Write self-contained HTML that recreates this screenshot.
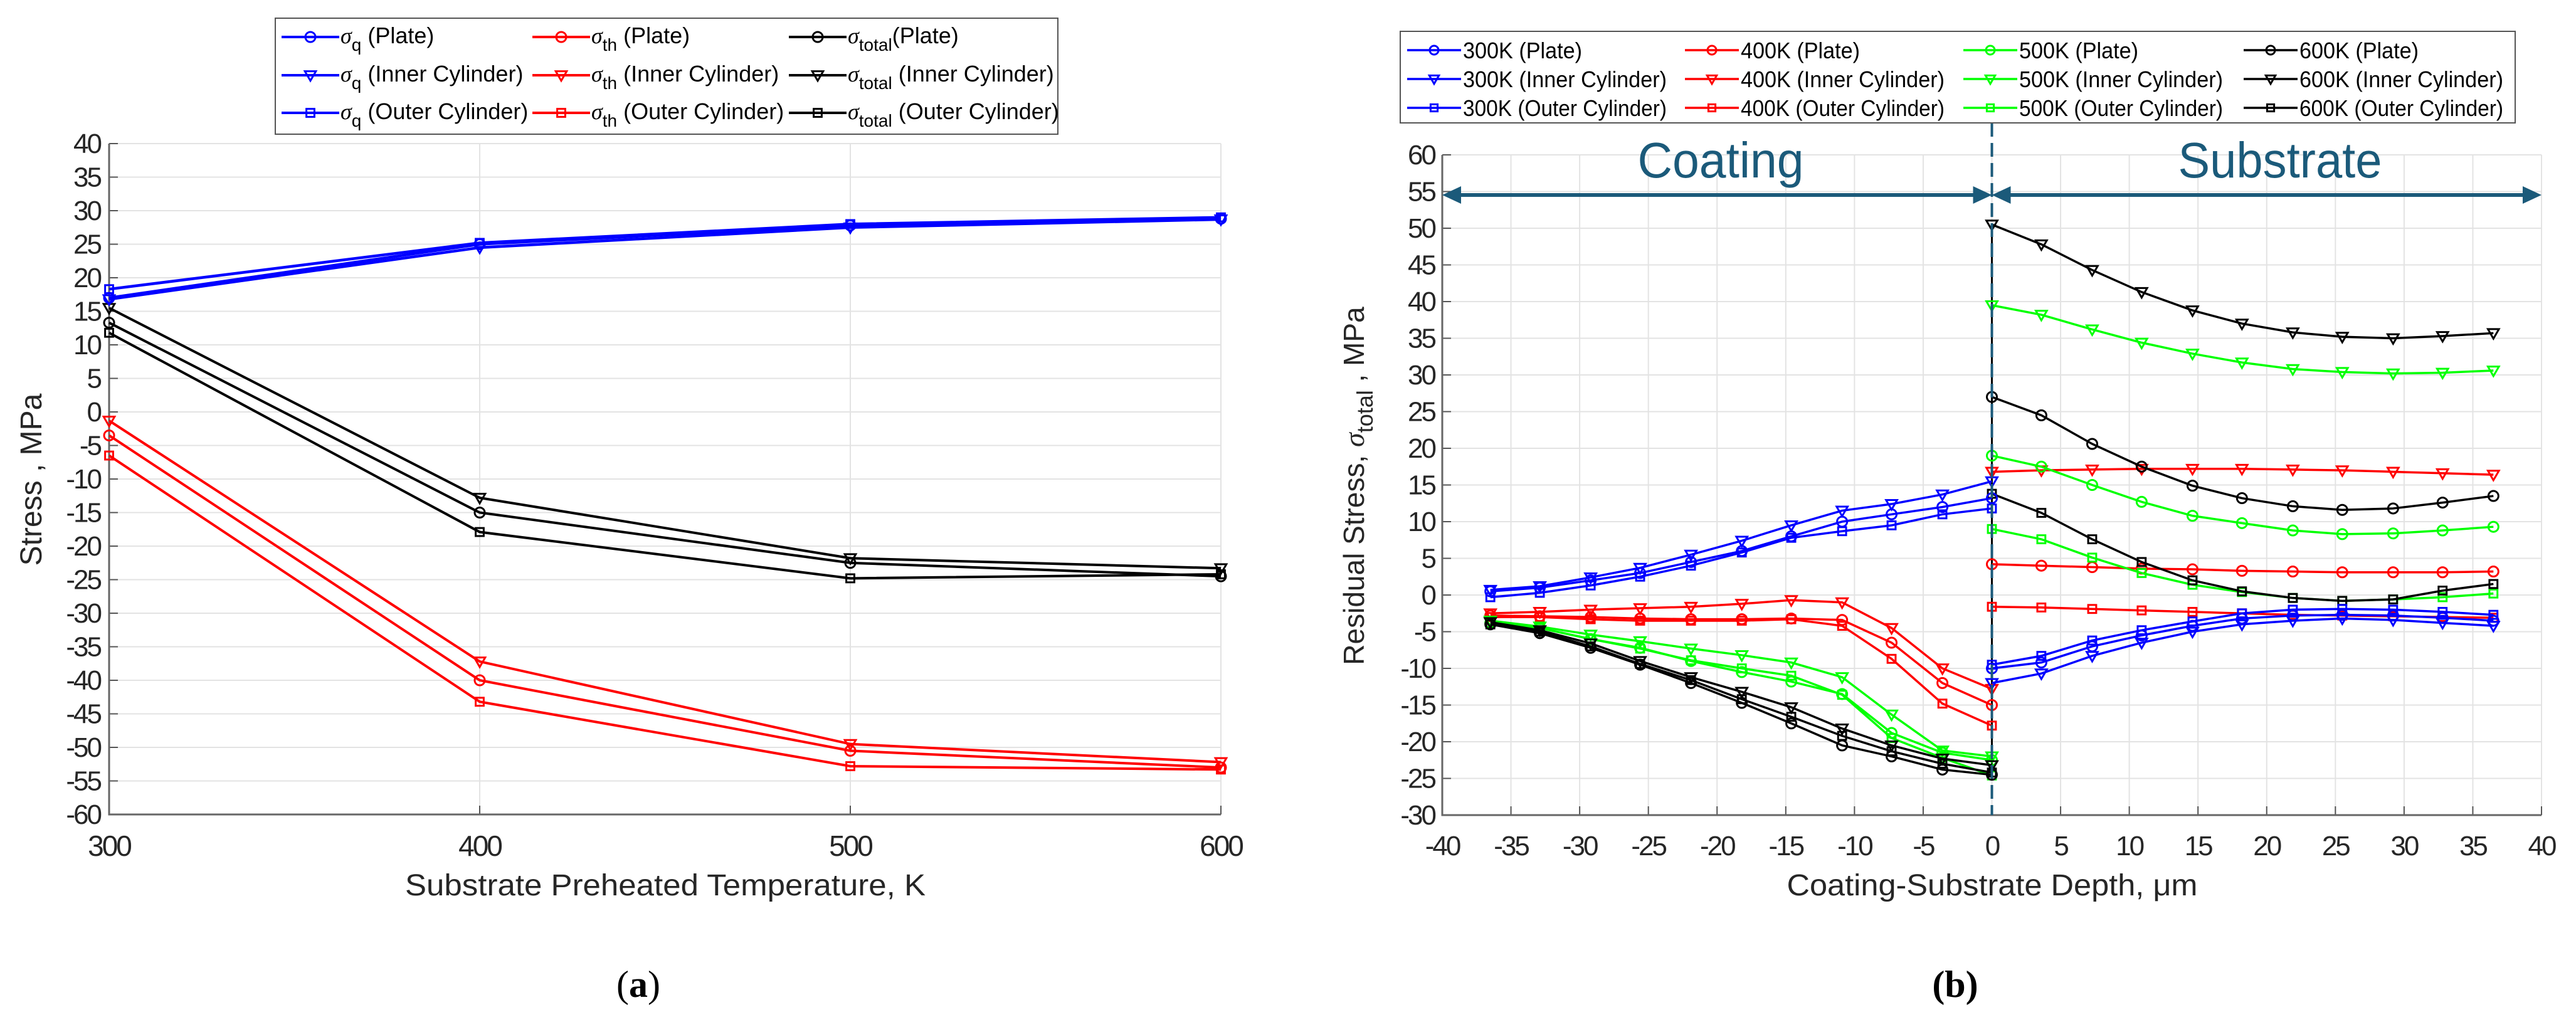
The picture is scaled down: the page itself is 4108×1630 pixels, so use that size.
<!DOCTYPE html>
<html><head><meta charset="utf-8"><style>
html,body{margin:0;padding:0;background:#fff;}
svg{display:block;font-family:"Liberation Sans",sans-serif;}
</style></head><body>
<svg id="fig" width="4108" height="1630" viewBox="0 0 4108 1630" xmlns="http://www.w3.org/2000/svg">
<g id="ga"></g>
<g id="gb"></g>
</svg>
<script>
// ---------- Chart (a) data ----------
const aTemps = [300, 400, 500, 600];
const aQPlate = [17, 25, 27.8, 28.8];
const aQInner = [16.8, 24.5, 27.5, 28.7];
const aQOuter = [18.3, 25.2, 28, 29];
const aThPlate = [-3.5, -40, -50.5, -53];
const aThInner = [-1.3, -37.2, -49.5, -52.2];
const aThOuter = [-6.5, -43.2, -52.8, -53.3];
const aTotPlate = [13.3, -15, -22.5, -24.5];
const aTotInner = [15.5, -12.8, -21.8, -23.3];
const aTotOuter = [11.8, -17.9, -24.8, -24.2];
const aXTicks = [300, 400, 500, 600];
const aYTicks = [40,35,30,25,20,15,10,5,0,-5,-10,-15,-20,-25,-30,-35,-40,-45,-50,-55,-60];

// ---------- Chart (b) data ----------
const bDepthCoat = [-36.5, -32.9, -29.2, -25.6, -21.9, -18.2, -14.6, -10.9, -7.3, -3.6, 0];
const bDepthSub = [0, 3.6, 7.3, 10.9, 14.6, 18.2, 21.9, 25.5, 29.2, 32.8, 36.5];
const b300PlateC = [0.5, 1, 2, 3, 4.5, 6, 8, 10, 11, 12, 13.2];
const b300InnerC = [0.7, 1.2, 2.4, 3.7, 5.5, 7.4, 9.5, 11.5, 12.4, 13.7, 15.5];
const b300OuterC = [-0.3, 0.3, 1.3, 2.5, 4, 5.8, 7.8, 8.7, 9.5, 11, 11.8];
const b300PlateS = [-10, -9.2, -7, -5.5, -4.2, -3.2, -2.8, -2.7, -2.8, -3.1, -3.5];
const b300InnerS = [-12, -10.7, -8.3, -6.5, -5, -4, -3.5, -3.2, -3.4, -3.8, -4.2];
const b300OuterS = [-9.5, -8.3, -6.2, -4.8, -3.6, -2.5, -2, -1.9, -2, -2.3, -2.7];
const b400PlateC = [-2.8, -2.9, -3, -3.2, -3.3, -3.3, -3.2, -3.4, -6.5, -12, -15];
const b400InnerC = [-2.5, -2.3, -2, -1.8, -1.6, -1.2, -0.7, -1, -4.5, -10, -12.8];
const b400OuterC = [-3, -3, -3.3, -3.5, -3.5, -3.5, -3.3, -4.2, -8.7, -14.8, -17.8];
const b400PlateS = [4.2, 4, 3.8, 3.6, 3.5, 3.3, 3.2, 3.1, 3.1, 3.1, 3.2];
const b400InnerS = [16.8, 17, 17.1, 17.2, 17.2, 17.2, 17.1, 17, 16.8, 16.6, 16.4];
const b400OuterS = [-1.6, -1.7, -1.9, -2.1, -2.3, -2.5, -2.7, -2.8, -2.9, -3, -3.1];
const b500PlateC = [-3.8, -4.5, -6, -7.2, -9, -10.5, -11.8, -13.5, -18.8, -21.5, -22.5];
const b500InnerC = [-3.5, -4.3, -5.4, -6.3, -7.3, -8.2, -9.2, -11.2, -16.3, -21.2, -22];
const b500OuterC = [-3.8, -4.5, -6, -7.3, -8.9, -10, -11, -13.6, -19.5, -22.2, -24.6];
const b500PlateS = [19, 17.5, 15, 12.7, 10.8, 9.8, 8.8, 8.3, 8.4, 8.8, 9.3];
const b500InnerS = [39.5, 38.2, 36.2, 34.4, 32.9, 31.7, 30.8, 30.4, 30.2, 30.3, 30.6];
const b500OuterS = [9, 7.6, 5.1, 3, 1.4, 0.4, -0.4, -0.8, -0.6, -0.3, 0.2];
const b600PlateC = [-4, -5.2, -7.2, -9.5, -12, -14.7, -17.5, -20.5, -22, -23.8, -24.5];
const b600InnerC = [-3.7, -4.8, -6.6, -9, -11.2, -13.2, -15.3, -18.2, -20.5, -22.3, -23.2];
const b600OuterC = [-4, -5, -7, -9.4, -11.6, -14.2, -16.6, -19.2, -21.3, -23, -24.2];
const b600PlateS = [27, 24.5, 20.6, 17.5, 14.9, 13.2, 12.1, 11.6, 11.8, 12.6, 13.5];
const b600InnerS = [50.5, 47.8, 44.3, 41.3, 38.8, 37, 35.8, 35.2, 35, 35.3, 35.7];
const b600OuterS = [13.8, 11.2, 7.6, 4.5, 2, 0.5, -0.4, -0.8, -0.6, 0.6, 1.5];
const bXTicks = [-40,-35,-30,-25,-20,-15,-10,-5,0,5,10,15,20,25,30,35,40];
const bYTicks = [60,55,50,45,40,35,30,25,20,15,10,5,0,-5,-10,-15,-20,-25,-30];

const NS = "http://www.w3.org/2000/svg";
function mk(parent, tag, attrs, text) {
  const e = document.createElementNS(NS, tag);
  for (const k in attrs) e.setAttribute(k, attrs[k]);
  if (text !== undefined) e.textContent = text;
  parent.appendChild(e);
  return e;
}
const BLUE = "#0000ff", RED = "#ff0000", GREEN = "#00ff00", BLACK = "#000000";
const TEAL = "#1b5a7a";

function marker(g, type, x, y, color, r) {
  let el;
  if (type === "o") el = mk(g, "circle", {cx: x, cy: y, r: r, fill: "none", stroke: color, "stroke-width": 3});
  else if (type === "v") el = mk(g, "polygon", {points: `${x-r*1.1},${y-r*0.8} ${x+r*1.1},${y-r*0.8} ${x},${y+r*1.1}`, fill: "none", stroke: color, "stroke-width": 3});
  else el = mk(g, "rect", {x: x-r*0.8, y: y-r*0.8, width: r*1.6, height: r*1.6, fill: "none", stroke: color, "stroke-width": 3});
  
  
  return el;
}
function series(g, xs, ys, sx, sy, color, type, name, lw, r) {
  const pts = xs.map((v, i) => sx(v) + "," + sy(ys[i])).join(" ");
  const pl = mk(g, "polyline", {points: pts, fill: "none", stroke: color, "stroke-width": lw});
  
  
  xs.forEach((v, i) => marker(g, type, sx(v), sy(ys[i]), color, r));
}

// ================= Chart A =================
(function(){
  const g = document.getElementById("ga");
  const L = 174, R = 1947, T = 229, B = 1299;
  const sx = v => L + (v - 300) / 300 * (R - L);
  const sy = v => T + (40 - v) / 100 * (B - T);
  aYTicks.forEach(t => {
    const gl = mk(g, "line", {x1: L, x2: R, y1: sy(t), y2: sy(t), stroke: "#e3e3e3", "stroke-width": 2});
    
    
    mk(g, "line", {x1: L, x2: L+14, y1: sy(t), y2: sy(t), stroke: "#555", "stroke-width": 2});
    const tl = mk(g, "text", {x: L - 14, y: sy(t) + 15, "text-anchor": "end", "font-size": 44, fill: "#262626", "letter-spacing": "-3"}, String(t));
    
    
  });
  aXTicks.forEach(t => {
    const gl = mk(g, "line", {x1: sx(t), x2: sx(t), y1: T, y2: B, stroke: "#e3e3e3", "stroke-width": 2});
    
    
    mk(g, "line", {x1: sx(t), x2: sx(t), y1: B, y2: B-14, stroke: "#555", "stroke-width": 2});
    const tl = mk(g, "text", {x: sx(t), y: B + 66, "text-anchor": "middle", "font-size": 46, fill: "#262626", "letter-spacing": "-3"}, String(t));
    
    
  });
  mk(g, "path", {d: `M${L},${T} V${B} H${R}`, fill: "none", stroke: "#666", "stroke-width": 3});
  series(g, aTemps, aThOuter, sx, sy, RED, "s", "sigma-th-outer-line", 4, 8);
  series(g, aTemps, aThPlate, sx, sy, RED, "o", "sigma-th-plate-line", 4, 8);
  series(g, aTemps, aThInner, sx, sy, RED, "v", "sigma-th-inner-line", 4, 8);
  series(g, aTemps, aTotOuter, sx, sy, BLACK, "s", "sigma-total-outer-line", 4, 8);
  series(g, aTemps, aTotPlate, sx, sy, BLACK, "o", "sigma-total-plate-line", 4, 8);
  series(g, aTemps, aTotInner, sx, sy, BLACK, "v", "sigma-total-inner-line", 4, 8);
  series(g, aTemps, aQOuter, sx, sy, BLUE, "s", "sigma-q-outer-line", 4.5, 8);
  series(g, aTemps, aQPlate, sx, sy, BLUE, "o", "sigma-q-plate-line", 4.5, 8);
  series(g, aTemps, aQInner, sx, sy, BLUE, "v", "sigma-q-inner-line", 4.5, 8);
  const yl = mk(g, "text", {x: 0, y: 0, transform: "translate(66,765) rotate(-90)", "text-anchor": "middle", "font-size": 48, fill: "#262626"}, "Stress , MPa");
  
  
  const xl = mk(g, "text", {x: 1061, y: 1428, "text-anchor": "middle", "font-size": 48, fill: "#262626", textLength: 830, lengthAdjust: "spacingAndGlyphs"}, "Substrate Preheated Temperature, K");
  
  
  const cap = mk(g, "text", {x: 1018, y: 1590, "text-anchor": "middle", "font-size": 60, fill: "#000", "font-family": "Liberation Serif, serif"});
  
  
  mk(cap, "tspan", {}, "(");
  mk(cap, "tspan", {"font-weight": "bold"}, "a");
  mk(cap, "tspan", {}, ")");
  // legend
  const lg = mk(g, "g", {});
  
  
  mk(lg, "rect", {x: 439, y: 29, width: 1248, height: 185, fill: "#fff", stroke: "#555", "stroke-width": 2});
  const cols = [[449, BLUE, "q"], [849, RED, "th"], [1258, BLACK, "total"]];
  const rows = [[59, "o", "Plate"], [120, "v", "Inner Cylinder"], [180, "s", "Outer Cylinder"]];
  cols.forEach(c => rows.forEach(r => {
    const e = mk(lg, "g", {});
    
    
    mk(e, "line", {x1: c[0], x2: c[0] + 92, y1: r[0], y2: r[0], stroke: c[1], "stroke-width": 4});
    marker(e, r[1], c[0] + 46, r[0], c[1], 8);
    const t = mk(e, "text", {x: c[0] + 94, y: r[0] + 10, "font-size": 36, fill: "#000"});
    mk(t, "tspan", {"font-style": "italic", "font-family": "Liberation Serif, serif"}, "σ");
    mk(t, "tspan", {"font-size": 28, dy: 12}, c[2]);
    const lab = (c[2] === "total" && r[2] === "Plate") ? "(Plate)" : " (" + r[2] + ")";
    mk(t, "tspan", {dy: -12}, lab);
  }));
})();

// ================= Chart B =================
(function(){
  const g = document.getElementById("gb");
  const L = 2300, R = 4053, T = 247, B = 1300;
  const sx = v => L + (v + 40) / 80 * (R - L);
  const sy = v => T + (60 - v) / 90 * (B - T);
  bYTicks.forEach(t => {
    const gl = mk(g, "line", {x1: L, x2: R, y1: sy(t), y2: sy(t), stroke: "#e3e3e3", "stroke-width": 2});
    
    
    mk(g, "line", {x1: L, x2: L+14, y1: sy(t), y2: sy(t), stroke: "#555", "stroke-width": 2});
    const tl = mk(g, "text", {x: L - 12, y: sy(t) + 15, "text-anchor": "end", "font-size": 44, fill: "#262626", "letter-spacing": "-3"}, String(t));
    
    
  });
  bXTicks.forEach(t => {
    const gl = mk(g, "line", {x1: sx(t), x2: sx(t), y1: T, y2: B, stroke: "#e3e3e3", "stroke-width": 2});
    
    
    mk(g, "line", {x1: sx(t), x2: sx(t), y1: B, y2: B-14, stroke: "#555", "stroke-width": 2});
    const tl = mk(g, "text", {x: sx(t), y: B + 64, "text-anchor": "middle", "font-size": 44, fill: "#262626", "letter-spacing": "-3"}, String(t));
    
    
  });
  mk(g, "path", {d: `M${L},${T} V${B} H${R}`, fill: "none", stroke: "#666", "stroke-width": 3});
  const vl = mk(g, "line", {x1: sx(0), x2: sx(0), y1: sy(50.5), y2: sy(-24.6), stroke: BLACK, "stroke-width": 3});
  
  
  const groups = [
    [RED, b400PlateC, b400InnerC, b400OuterC, b400PlateS, b400InnerS, b400OuterS, "400k"],
    [GREEN, b500PlateC, b500InnerC, b500OuterC, b500PlateS, b500InnerS, b500OuterS, "500k"],
    [BLACK, b600PlateC, b600InnerC, b600OuterC, b600PlateS, b600InnerS, b600OuterS, "600k"],
    [BLUE, b300PlateC, b300InnerC, b300OuterC, b300PlateS, b300InnerS, b300OuterS, "300k"]
  ];
  groups.forEach(gr => {
    series(g, bDepthCoat, gr[1], sx, sy, gr[0], "o", gr[7] + "-plate-coating", 3.5, 8);
    series(g, bDepthCoat, gr[2], sx, sy, gr[0], "v", gr[7] + "-inner-coating", 3.5, 8);
    series(g, bDepthCoat, gr[3], sx, sy, gr[0], "s", gr[7] + "-outer-coating", 3.5, 8);
    series(g, bDepthSub, gr[4], sx, sy, gr[0], "o", gr[7] + "-plate-substrate", 3.5, 8);
    series(g, bDepthSub, gr[5], sx, sy, gr[0], "v", gr[7] + "-inner-substrate", 3.5, 8);
    series(g, bDepthSub, gr[6], sx, sy, gr[0], "s", gr[7] + "-outer-substrate", 3.5, 8);
  });
  const dl = mk(g, "line", {x1: sx(0), x2: sx(0), y1: 196, y2: B, stroke: TEAL, "stroke-width": 4, "stroke-dasharray": "22,10"});
  
  
  const ay = 311, x0 = sx(0);
  const ar = mk(g, "g", {});
  
  
  mk(ar, "line", {x1: L + 28, x2: x0 - 28, y1: ay, y2: ay, stroke: TEAL, "stroke-width": 6});
  mk(ar, "line", {x1: x0 + 28, x2: R - 28, y1: ay, y2: ay, stroke: TEAL, "stroke-width": 6});
  mk(ar, "polygon", {points: `${L},${ay} ${L+30},${ay-14} ${L+30},${ay+14}`, fill: TEAL});
  mk(ar, "polygon", {points: `${x0},${ay} ${x0-30},${ay-14} ${x0-30},${ay+14}`, fill: TEAL});
  mk(ar, "polygon", {points: `${x0},${ay} ${x0+30},${ay-14} ${x0+30},${ay+14}`, fill: TEAL});
  mk(ar, "polygon", {points: `${R},${ay} ${R-30},${ay-14} ${R-30},${ay+14}`, fill: TEAL});
  const ct = mk(g, "text", {x: 2744, y: 283, "text-anchor": "middle", "font-size": 80, fill: TEAL, textLength: 265, lengthAdjust: "spacingAndGlyphs"}, "Coating");
  
  
  const st = mk(g, "text", {x: 3636, y: 283, "text-anchor": "middle", "font-size": 80, fill: TEAL, textLength: 325, lengthAdjust: "spacingAndGlyphs"}, "Substrate");
  
  
  const yl = mk(g, "text", {x: 0, y: 0, transform: "translate(2175,775) rotate(-90)", "text-anchor": "middle", "font-size": 46, fill: "#262626"});
  
  
  mk(yl, "tspan", {}, "Residual Stress, ");
  mk(yl, "tspan", {"font-style": "italic", "font-family": "Liberation Serif, serif"}, "σ");
  mk(yl, "tspan", {"font-size": 36, dy: 14}, "total");
  mk(yl, "tspan", {dy: -14}, " , MPa");
  const xl = mk(g, "text", {x: 3177, y: 1428, "text-anchor": "middle", "font-size": 48, fill: "#262626", textLength: 655, lengthAdjust: "spacingAndGlyphs"}, "Coating-Substrate Depth, μm");
  
  
  const cap = mk(g, "text", {x: 3118, y: 1590, "text-anchor": "middle", "font-size": 60, fill: "#000", "font-family": "Liberation Serif, serif", "font-weight": "bold"}, "(b)");
  
  
  const lg = mk(g, "g", {});
  
  
  mk(lg, "rect", {x: 2233, y: 50, width: 1778, height: 146, fill: "#fff", stroke: "#555", "stroke-width": 2});
  const cols = [[2244, BLUE, "300K"], [2687, RED, "400K"], [3131, GREEN, "500K"], [3578, BLACK, "600K"]];
  const rows = [[80, "o", "Plate"], [126, "v", "Inner Cylinder"], [172, "s", "Outer Cylinder"]];
  cols.forEach(c => rows.forEach(r => {
    const e = mk(lg, "g", {});
    
    
    mk(e, "line", {x1: c[0], x2: c[0] + 86, y1: r[0], y2: r[0], stroke: c[1], "stroke-width": 3.5});
    marker(e, r[1], c[0] + 43, r[0], c[1], 7);
    const txt = c[2] + " (" + r[2] + ")";
    const len = r[2] === "Plate" ? 190 : 325;
    mk(e, "text", {x: c[0] + 89, y: r[0] + 13, "font-size": 36, fill: "#000", textLength: len, lengthAdjust: "spacingAndGlyphs"}, txt);
  }));
})();
</script>
</body></html>
